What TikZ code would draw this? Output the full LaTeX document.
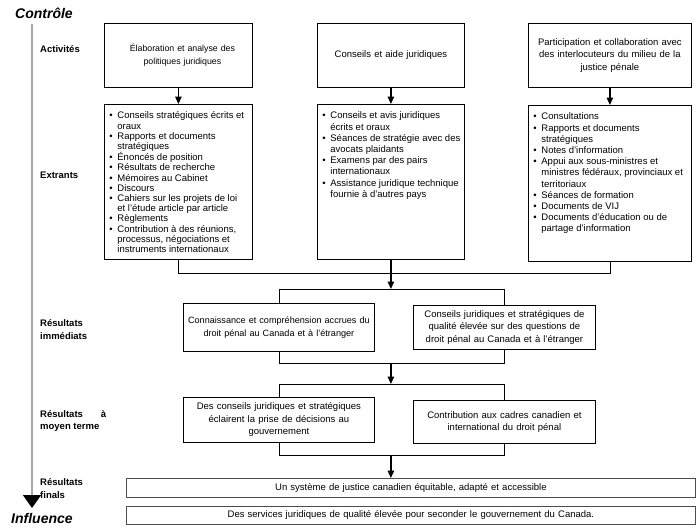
\documentclass[tikz,border=0pt]{standalone}
\usepackage{fontspec}
\setmainfont{Liberation Sans}
\usetikzlibrary{arrows.meta}
\lineskiplimit=-10pt
\tikzset{
    frame-box/.style 2 args = {draw, line width=0.8pt, anchor=north west, inner sep=0pt, minimum width=#1, text width=#1, minimum height=#2, align=center, font=\fontsize{9.5}{12.5}\selectfont},
    list-box/.style = {draw, line width=0.8pt, anchor=north west, inner sep=0pt},
    row-label/.style = {anchor=west, align=left, inner sep=0pt, font=\bfseries\fontsize{9.5}{12.5}\selectfont},
    big-label/.style = {anchor=base west, inner sep=0pt, font=\bfseries\itshape\fontsize{14}{16}\selectfont},
    flow-arrow/.style = {line width=1.2pt, -{Triangle[width=6.5pt,length=7.5pt]}},
    link-line/.style = {line width=0.8pt},
    axis-line/.style = {draw=black!35, line width=1.5pt, -{Triangle[width=18pt,length=13pt,color=black]}},
}
\newcommand{\listsetup}[1]{\fontsize{9.5}{#1}\selectfont\parindent=0pt\leftskip=5pt\rightskip=0pt plus 1fil\rule{0pt}{\dimexpr14.5pt-#1\relax}\par}
\newcommand{\puce}[1]{\par\hangindent=8pt\hangafter=1\noindent\makebox[8pt][l]{\textbullet}#1\par}

\begin{document}
\begin{tikzpicture}[x=1pt,y=-1pt]
\useasboundingbox (0,0) rectangle (700,531);

\node[big-label] (controle) at (15,18.5) {Contrôle};
\node[big-label] (influence) at (11,523.5) {Influence};
\coordinate (axis-top) at (32,24);
\coordinate (axis-end) at (32,508);
\draw[axis-line] (axis-top) -- (axis-end);

\node[row-label] (l-act) at (40,49) {Activités};
\node[row-label] (l-ext) at (40,175) {Extrants};
\node[row-label] (l-imm) at (40,329.5) {Résultats\\immédiats};
\node[row-label] (l-moy) at (40,421) {\makebox[66pt][l]{Résultats\hfill à}\\moyen terme};
\node[row-label] (l-fin) at (40,488.5) {Résultats\\finals};

\node[frame-box={148pt}{64pt}, font=\fontsize{8.8}{12.8}\selectfont] (act1) at (104,23) {\hspace*{8pt}Élaboration et analyse des\\\hspace*{8pt}politiques juridiques};
\node[frame-box={147pt}{64pt}] (act2) at (317,23) {Conseils et aide juridiques};
\node[frame-box={163pt}{64pt}] (act3) at (528,23) {Participation et collaboration avec\\des interlocuteurs du milieu de la\\justice pénale};

\node[list-box] (ext1) at (104,104) {\begin{minipage}[t][155pt][t]{148pt}
    \listsetup{10.2pt}
    \puce{Conseils stratégiques écrits et\newline oraux}
    \puce{Rapports et documents\newline stratégiques}
    \puce{Énoncés de position}
    \puce{Résultats de recherche}
    \puce{Mémoires au Cabinet}
    \puce{Discours}
    \puce{Cahiers sur les projets de loi\newline et l'étude article par article}
    \puce{Règlements}
    \puce{Contribution à des réunions,\newline processus, négociations et\newline instruments internationaux}
\end{minipage}};
\node[list-box] (ext2) at (317,104) {\begin{minipage}[t][155pt][t]{147pt}
    \listsetup{11.2pt}
    \puce{Conseils et avis juridiques\newline écrits et oraux}
    \puce{Séances de stratégie avec des\newline avocats plaidants}
    \puce{Examens par des pairs\newline internationaux}
    \puce{Assistance juridique technique\newline fournie à d'autres pays}
\end{minipage}};
\node[list-box] (ext3) at (528,105) {\begin{minipage}[t][156pt][t]{163pt}
    \listsetup{11.2pt}
    \puce{Consultations}
    \puce{Rapports et documents\newline stratégiques}
    \puce{Notes d'information}
    \puce{Appui aux sous-ministres et\newline ministres fédéraux, provinciaux et\newline territoriaux}
    \puce{Séances de formation}
    \puce{Documents de VIJ}
    \puce{Documents d'éducation ou de\newline partage d'information}
\end{minipage}};

\node[frame-box={191pt}{48pt}, font=\fontsize{9.1}{12.5}\selectfont] (res1a) at (183,303) {Connaissance et compréhension accrues du\\droit pénal au Canada et à l'étranger};
\node[frame-box={182pt}{44pt}] (res1b) at (413,305) {Conseils juridiques et stratégiques de\\qualité élevée sur des questions de\\droit pénal au Canada et à l'étranger};
\node[frame-box={191pt}{45pt}] (res2a) at (183,397) {Des conseils juridiques et stratégiques\\éclairent la prise de décisions au\\gouvernement};
\node[frame-box={182pt}{43pt}] (res2b) at (413,400) {Contribution aux cadres canadien et\\international du droit pénal};
\node[frame-box={569pt}{19pt}, draw=black!70] (fin1) at (126,478) {Un système de justice canadien équitable, adapté et accessible};
\node[frame-box={569pt}{18pt}, draw=black!70] (fin2) at (126,506) {Des services juridiques de qualité élevée pour seconder le gouvernement du Canada.};

\draw[flow-arrow] (act1) -- (ext1);
\draw[flow-arrow] (act2) -- (ext2);
\draw[flow-arrow] (act3) -- (ext3);
\draw[link-line] (ext1.south) -- ++(0,14) -| (ext3.south);
\draw[link-line] (res1a.north) -- ++(0,-14) coordinate (g1) -| (res1b.north);
\draw[flow-arrow] (ext2.south) -- (ext2.south |- g1);
\draw[link-line] (res1a.south) -- ++(0,12) coordinate (d1) -| (res1b.south);
\draw[link-line] (res2a.north) -- ++(0,-13) coordinate (g2) -| (res2b.north);
\draw[flow-arrow] (d1 -| ext2.south) -- (g2 -| ext2.south);
\draw[link-line] (res2a.south) -- ++(0,13) coordinate (d2) -| (res2b.south);
\draw[flow-arrow] (d2 -| ext2.south) -- (fin1.north -| ext2.south);
\end{tikzpicture}
\end{document}
